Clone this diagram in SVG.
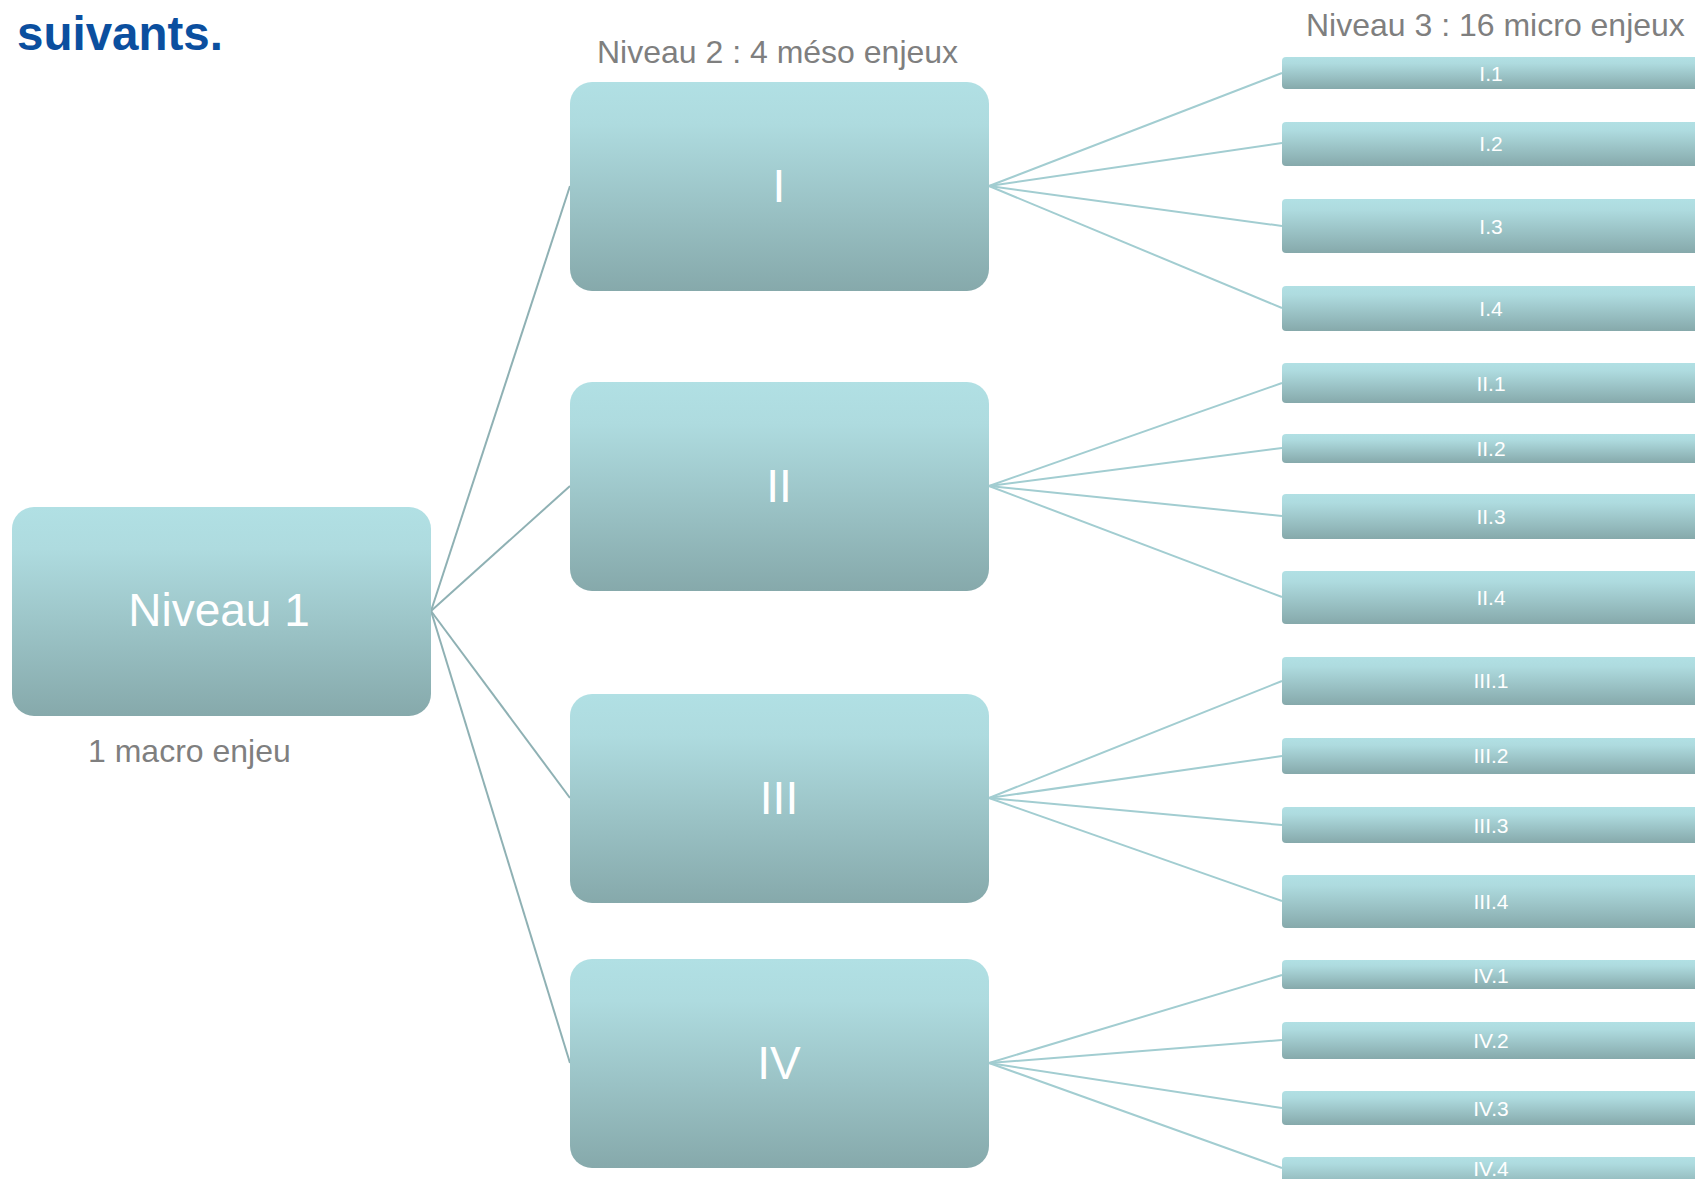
<svg xmlns="http://www.w3.org/2000/svg" width="1695" height="1179" viewBox="0 0 1695 1179">
<defs>
<linearGradient id="g" x1="0" y1="0" x2="0" y2="1">
<stop offset="0" stop-color="#b1e0e4"/>
<stop offset="0.2" stop-color="#aedbdf"/>
<stop offset="1" stop-color="#86a9ab"/>
</linearGradient>
<style>
.box{fill:url(#g);}
.big{font-family:"Liberation Sans",Arial,sans-serif;font-size:46px;fill:#ffffff;text-anchor:middle;dominant-baseline:central;}
.small{font-family:"Liberation Sans",Arial,sans-serif;font-size:21px;fill:#ffffff;text-anchor:middle;dominant-baseline:central;}
.cap{font-family:"Liberation Sans",Arial,sans-serif;font-size:32px;fill:#7f7f7f;}
.c1{stroke:#8fb1b4;stroke-width:2;fill:none;}
.c2{stroke:#a2cdd1;stroke-width:2;fill:none;}
</style>
</defs>
<rect width="1695" height="1179" fill="#ffffff"/>
<text x="17" y="50" font-family="Liberation Sans,Arial,sans-serif" font-size="47.5" font-weight="bold" fill="#0b4f9f">suivants.</text>
<text class="cap" x="597" y="63">Niveau 2 : 4 méso enjeux</text>
<text class="cap" x="1306" y="36">Niveau 3 : 16 micro enjeux</text>
<text class="cap" x="88" y="762">1 macro enjeu</text>
<g id="connectors">
<line class="c1" x1="431" y1="611" x2="570" y2="186"/>
<line class="c1" x1="431" y1="611" x2="570" y2="486"/>
<line class="c1" x1="431" y1="611" x2="570" y2="798"/>
<line class="c1" x1="431" y1="611" x2="570" y2="1063"/>
<line class="c2" x1="989" y1="186" x2="1282" y2="73"/>
<line class="c2" x1="989" y1="186" x2="1282" y2="143"/>
<line class="c2" x1="989" y1="186" x2="1282" y2="226"/>
<line class="c2" x1="989" y1="186" x2="1282" y2="308"/>
<line class="c2" x1="989" y1="486" x2="1282" y2="383"/>
<line class="c2" x1="989" y1="486" x2="1282" y2="448"/>
<line class="c2" x1="989" y1="486" x2="1282" y2="516"/>
<line class="c2" x1="989" y1="486" x2="1282" y2="597"/>
<line class="c2" x1="989" y1="798" x2="1282" y2="681"/>
<line class="c2" x1="989" y1="798" x2="1282" y2="756"/>
<line class="c2" x1="989" y1="798" x2="1282" y2="825"/>
<line class="c2" x1="989" y1="798" x2="1282" y2="901"/>
<line class="c2" x1="989" y1="1063" x2="1282" y2="975"/>
<line class="c2" x1="989" y1="1063" x2="1282" y2="1040"/>
<line class="c2" x1="989" y1="1063" x2="1282" y2="1108"/>
<line class="c2" x1="989" y1="1063" x2="1282" y2="1168"/>
</g>
<g id="n1"><rect class="box" x="12" y="507" width="419" height="209" rx="22"/><text class="big" x="219" y="610">Niveau 1</text></g>
<g id="nI"><rect class="box" x="570" y="82" width="419" height="209" rx="22"/><text class="big" x="779" y="186">I</text></g>
<g id="nII"><rect class="box" x="570" y="382" width="419" height="209" rx="22"/><text class="big" x="779" y="486">II</text></g>
<g id="nIII"><rect class="box" x="570" y="694" width="419" height="209" rx="22"/><text class="big" x="779" y="798">III</text></g>
<g id="nIV"><rect class="box" x="570" y="959" width="419" height="209" rx="22"/><text class="big" x="779" y="1063">IV</text></g>
<g id="nI1"><rect class="box" x="1282" y="57" width="420" height="32" rx="4"/><text class="small" x="1491" y="73">I.1</text></g>
<g id="nI2"><rect class="box" x="1282" y="122" width="420" height="44" rx="4"/><text class="small" x="1491" y="143">I.2</text></g>
<g id="nI3"><rect class="box" x="1282" y="199" width="420" height="54" rx="4"/><text class="small" x="1491" y="226">I.3</text></g>
<g id="nI4"><rect class="box" x="1282" y="286" width="420" height="45" rx="4"/><text class="small" x="1491" y="308">I.4</text></g>
<g id="nII1"><rect class="box" x="1282" y="363" width="420" height="40" rx="4"/><text class="small" x="1491" y="383">II.1</text></g>
<g id="nII2"><rect class="box" x="1282" y="434" width="420" height="29" rx="4"/><text class="small" x="1491" y="448">II.2</text></g>
<g id="nII3"><rect class="box" x="1282" y="494" width="420" height="45" rx="4"/><text class="small" x="1491" y="516">II.3</text></g>
<g id="nII4"><rect class="box" x="1282" y="571" width="420" height="53" rx="4"/><text class="small" x="1491" y="597">II.4</text></g>
<g id="nIII1"><rect class="box" x="1282" y="657" width="420" height="48" rx="4"/><text class="small" x="1491" y="680">III.1</text></g>
<g id="nIII2"><rect class="box" x="1282" y="738" width="420" height="36" rx="4"/><text class="small" x="1491" y="755">III.2</text></g>
<g id="nIII3"><rect class="box" x="1282" y="807" width="420" height="36" rx="4"/><text class="small" x="1491" y="825">III.3</text></g>
<g id="nIII4"><rect class="box" x="1282" y="875" width="420" height="53" rx="4"/><text class="small" x="1491" y="901">III.4</text></g>
<g id="nIV1"><rect class="box" x="1282" y="960" width="420" height="29" rx="4"/><text class="small" x="1491" y="975">IV.1</text></g>
<g id="nIV2"><rect class="box" x="1282" y="1022" width="420" height="37" rx="4"/><text class="small" x="1491" y="1040">IV.2</text></g>
<g id="nIV3"><rect class="box" x="1282" y="1091" width="420" height="34" rx="4"/><text class="small" x="1491" y="1108">IV.3</text></g>
<g id="nIV4"><rect class="box" x="1282" y="1157" width="420" height="34" rx="4"/><text class="small" x="1491" y="1168">IV.4</text></g>
</svg>
